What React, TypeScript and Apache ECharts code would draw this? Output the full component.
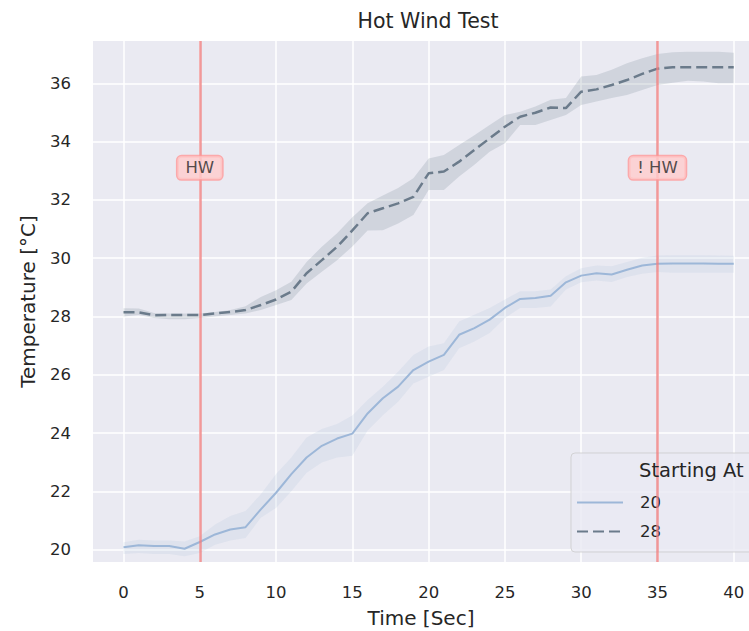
import React, { useEffect, useRef } from "react";
import * as echarts from "echarts";

// ---- data ----
const TIME = [0, 1, 2, 3, 4, 5, 6, 7, 8, 9, 10, 11, 12, 13, 14, 15, 16, 17, 18, 19, 20, 21, 22, 23, 24, 25, 26, 27, 28, 29, 30, 31, 32, 33, 34, 35, 36, 37, 38, 39, 40];

const MEAN_20 = [20.08, 20.15, 20.12, 20.12, 20.03, 20.26, 20.52, 20.69, 20.77, 21.38, 21.95, 22.59, 23.16, 23.56, 23.81, 23.98, 24.67, 25.19, 25.59, 26.16, 26.45, 26.68, 27.37, 27.6, 27.89, 28.29, 28.6, 28.63, 28.71, 29.17, 29.4, 29.48, 29.44, 29.6, 29.75, 29.81, 29.82, 29.82, 29.82, 29.81, 29.81];
const UPPER_20 = [20.25, 20.34, 20.31, 20.31, 20.28, 20.46, 20.86, 21.15, 21.32, 21.9, 22.59, 23.16, 23.85, 24.14, 24.31, 24.6, 25.13, 25.59, 26.1, 26.68, 26.97, 27.08, 27.83, 28.06, 28.29, 28.58, 28.86, 28.86, 28.92, 29.38, 29.65, 29.75, 29.72, 29.87, 30.01, 30.09, 30.1, 30.1, 30.1, 30.09, 30.08];
const LOWER_20 = [19.85, 19.88, 19.85, 19.85, 19.77, 19.88, 20.17, 20.31, 20.4, 21.09, 21.43, 22.0, 22.64, 22.99, 23.16, 23.22, 24.09, 24.61, 25.07, 25.7, 25.93, 26.16, 26.91, 27.14, 27.43, 27.94, 28.29, 28.29, 28.34, 28.92, 29.17, 29.23, 29.18, 29.35, 29.46, 29.52, 29.5, 29.5, 29.5, 29.5, 29.5];

const MEAN_28 = [28.14, 28.14, 28.04, 28.05, 28.05, 28.05, 28.1, 28.15, 28.22, 28.39, 28.58, 28.85, 29.48, 29.93, 30.39, 30.95, 31.54, 31.71, 31.88, 32.1, 32.91, 32.97, 33.31, 33.71, 34.11, 34.51, 34.85, 34.99, 35.17, 35.15, 35.71, 35.79, 35.94, 36.11, 36.32, 36.5, 36.55, 36.55, 36.55, 36.55, 36.55];
const UPPER_28 = [28.28, 28.27, 28.12, 28.1, 28.1, 28.1, 28.15, 28.22, 28.35, 28.67, 28.9, 29.19, 29.87, 30.39, 30.85, 31.4, 31.88, 32.15, 32.41, 32.74, 33.42, 33.54, 33.88, 34.22, 34.57, 34.91, 35.02, 35.2, 35.43, 35.49, 36.23, 36.28, 36.46, 36.69, 36.86, 37.0, 37.06, 37.08, 37.08, 37.08, 37.05];
const LOWER_28 = [28.0, 28.05, 27.95, 27.9, 27.9, 27.95, 28.0, 28.05, 28.1, 28.22, 28.39, 28.56, 29.13, 29.53, 29.93, 30.4, 30.95, 30.96, 31.19, 31.48, 32.34, 32.34, 32.8, 33.2, 33.65, 33.94, 34.57, 34.57, 34.74, 34.91, 35.25, 35.37, 35.49, 35.6, 35.77, 35.94, 36.02, 36.09, 36.06, 36.0, 36.0];

const SERIES_NAMES = ["20", "28"];
const EVENT_TIMES = [5, 35];
const EVENT_LABELS = ["HW", "! HW"];
const EVENT_LABEL_Y = 33.1;

const X_MIN = -2;
const X_MAX = 41;
const Y_MIN = 19.574;
const Y_MAX = 37.45;

const TITLE = "Hot Wind Test";
const X_NAME = "Time [Sec]";
const Y_NAME = "Temperature [°C]";
const LEGEND_TITLE = "Starting At";

// ---- styles ----
const FONT = "DejaVu Sans";
const TEXT = "#262626";
const COLOR_20 = "#9db7d8";
const COLOR_28 = "#6b7b8b";
const BAND_20 = "#aec2de";
const BAND_28 = "#6b7b8c";
const RED = "#f08080";

export default function App() {
  const ref = useRef<HTMLDivElement>(null);

  useEffect(() => {
    document.body.style.margin = "0";
    if (!ref.current) return;
    const chart = echarts.init(ref.current, null, { renderer: "svg" });

    const pairs = (ys: number[]) => TIME.map((t, i) => [t, ys[i]]);

    const bandSeries = (key: string, lo: number[], up: number[], color: string) => ({
      name: "ci" + key,
      type: "custom",
      silent: true,
      z: 1,
      clip: true,
      data: TIME.map((t, i) => [t, lo[i], up[i]]),
      encode: { x: 0, y: [1, 2] },
      renderItem: (params: any, api: any) => {
        if (params.dataIndex !== 0) return null;
        const top = TIME.map((t, i) => api.coord([t, up[i]]));
        const bot = TIME.map((t, i) => api.coord([t, lo[i]])).reverse();
        return {
          type: "polygon",
          shape: { points: top.concat(bot) },
          style: { fill: color, opacity: 0.2 },
        };
      },
    });

    const option: any = {
      animation: false,
      backgroundColor: "#ffffff",
      textStyle: { fontFamily: FONT },
      grid: {
        left: 93,
        top: 41,
        right: 0,
        height: 521,
        outerBoundsMode: "none",
        containLabel: false,
        show: true,
        backgroundColor: "#eaeaf2",
        borderWidth: 0,
      },
      xAxis: {
        type: "value",
        min: X_MIN,
        max: X_MAX,
        splitNumber: 9,
        axisLine: { show: false },
        axisTick: { show: false },
        splitLine: {
          show: true,
          showMinLine: false,
          showMaxLine: false,
          lineStyle: { color: "#ffffff", width: 1.5 },
        },
        axisLabel: {
          showMinLabel: false,
          showMaxLabel: false,
          color: TEXT,
          fontSize: 16.5,
          fontFamily: FONT,
          margin: 22,
        },
        name: X_NAME,
        nameLocation: "middle",
        nameGap: 46,
        nameTextStyle: { color: TEXT, fontSize: 20, fontFamily: FONT },
      },
      yAxis: {
        type: "value",
        min: Y_MIN,
        max: Y_MAX,
        splitNumber: 9,
        axisLine: { show: false },
        axisTick: { show: false },
        splitLine: {
          show: true,
          showMinLine: false,
          showMaxLine: false,
          lineStyle: { color: "#ffffff", width: 1.5 },
        },
        axisLabel: {
          showMinLabel: false,
          showMaxLabel: false,
          color: TEXT,
          fontSize: 16.5,
          fontFamily: FONT,
          margin: 22,
        },
        name: Y_NAME,
        nameLocation: "middle",
        nameGap: 55,
        nameTextStyle: { color: TEXT, fontSize: 20, fontFamily: FONT },
      },
      legend: {
        data: SERIES_NAMES,
        orient: "vertical",
        left: 571,
        top: 453,
        itemWidth: 46,
        itemHeight: 14,
        itemGap: 12,
        padding: [41, 110, 12, 5],
        backgroundColor: "rgba(234,234,242,0.8)",
        borderColor: "rgba(204,204,204,0.8)",
        borderWidth: 1,
        borderRadius: 4,
        itemStyle: { opacity: 0 },
        textStyle: { color: TEXT, fontSize: 16.5, fontFamily: FONT, padding: [0, 0, 0, 12] },
      },
      graphic: [
        {
          type: "text",
          x: 428,
          y: 21,
          z: 100,
          style: { text: TITLE, fill: TEXT, fontSize: 20.5, fontFamily: FONT, align: "center", verticalAlign: "middle" },
        },
        {
          type: "text",
          x: 639,
          y: 470,
          z: 100,
          style: { text: LEGEND_TITLE, fill: TEXT, fontSize: 19.5, fontFamily: FONT, align: "left", verticalAlign: "middle" },
        },
      ],
      series: [
        bandSeries("20", LOWER_20, UPPER_20, BAND_20),
        bandSeries("28", LOWER_28, UPPER_28, BAND_28),
        {
          name: SERIES_NAMES[0],
          type: "line",
          data: pairs(MEAN_20),
          symbol: "none",
          color: COLOR_20,
          lineStyle: { color: COLOR_20, width: 2 },
          z: 3,
        },
        {
          name: SERIES_NAMES[1],
          type: "line",
          data: pairs(MEAN_28),
          symbol: "none",
          color: COLOR_28,
          lineStyle: { color: COLOR_28, width: 2.5, type: [11, 5] },
          z: 3,
          markLine: {
            silent: true,
            symbol: ["none", "none"],
            label: { show: false },
            z: 5,
            lineStyle: { color: RED, opacity: 0.8, width: 2.5, type: "solid" },
            data: EVENT_TIMES.map((t) => ({ xAxis: t })),
          },
        },
        {
          name: "events",
          type: "scatter",
          symbolSize: 0,
          silent: true,
          z: 10,
          data: EVENT_TIMES.map((t, i) => [t, EVENT_LABEL_Y, EVENT_LABELS[i]]),
          label: {
            show: true,
            position: "inside",
            formatter: (p: any) => p.data[2],
            color: TEXT,
            fontSize: 16.5,
            fontFamily: FONT,
            backgroundColor: "#ffcccc",
            borderColor: "#ff9999",
            borderWidth: 1.5,
            borderRadius: 4,
            padding: [3, 8, 3, 8],
          },
        },
      ],
    };

    chart.setOption(option);
    return () => chart.dispose();
  }, []);

  return <div ref={ref} style={{ width: 749, height: 631 }} />;
}
